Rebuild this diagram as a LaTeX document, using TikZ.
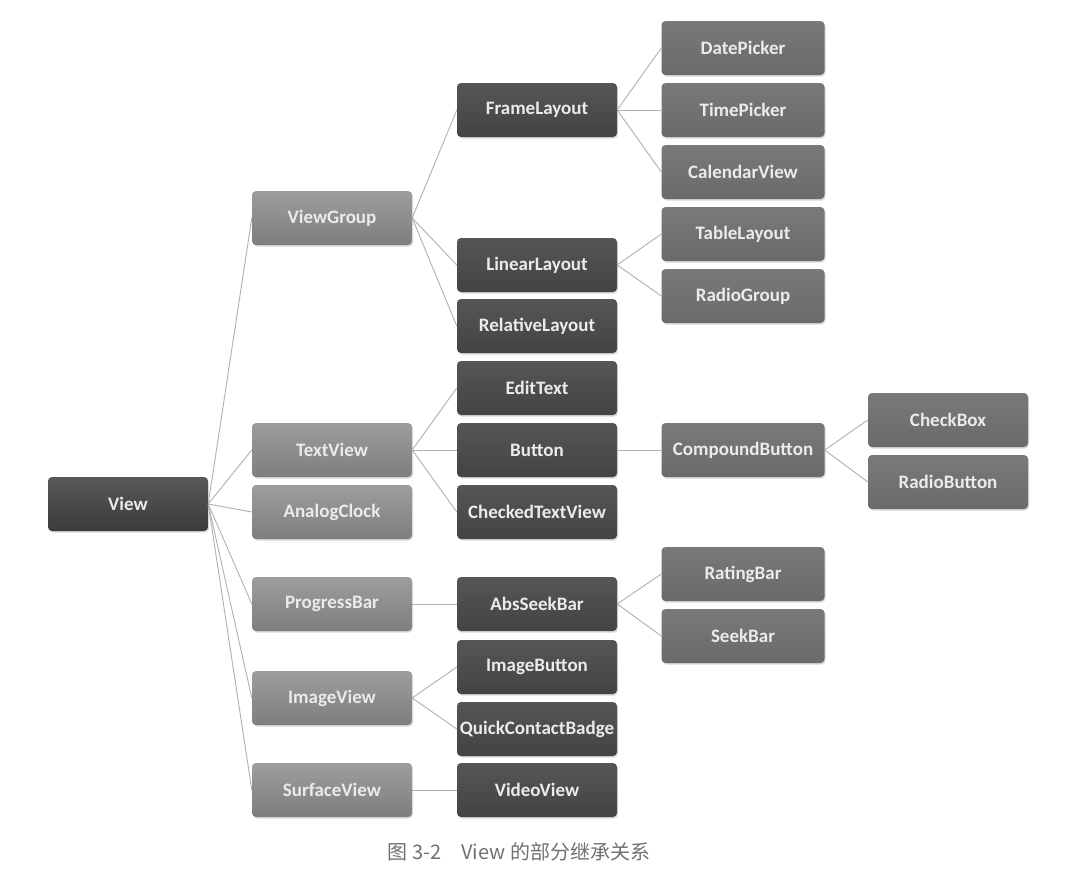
\documentclass[tikz,border=0pt]{standalone}
\usepackage{fontspec}
\setmainfont{Carlito}
\newfontfamily\cjk{Noto Sans CJK SC}
\usetikzlibrary{shadows}

\definecolor{rootgray}{HTML}{3B3B3B}
\definecolor{onegray}{HTML}{8C8C8C}
\definecolor{twogray}{HTML}{434343}
\definecolor{threegray}{HTML}{6A6A6A}
\definecolor{linegray}{HTML}{B0B0B0}
\definecolor{capgray}{HTML}{707070}

\tikzstyle{box} = [rectangle, rounded corners=4pt, minimum width=160pt, minimum height=54pt,
  inner sep=1pt, text=white!92!black, font=\fontsize{19}{22}\selectfont\bfseries,
  drop shadow={opacity=0.3, shadow xshift=1pt, shadow yshift=-1.5pt}]
\tikzstyle{root} = [box, top color=rootgray!85!white, bottom color=rootgray]
\tikzstyle{lvlone} = [box, top color=onegray!85!white, bottom color=onegray!90!black]
\tikzstyle{lvltwo} = [box, top color=twogray!90!white, bottom color=twogray]
\tikzstyle{lvlthree} = [box, minimum width=163pt, top color=threegray!90!white, bottom color=threegray]
\tikzstyle{link} = [draw=linegray, line width=0.9pt]

\begin{document}
\begin{tikzpicture}[x=1pt, y=-1pt]
        \useasboundingbox (0,0) rectangle (1071,894);

        % Root
        \node[root] (view) at (128,504) {View};

        % First level
        \foreach \name/\y/\txt in {
          viewgroup/218/ViewGroup,
          textview/450/TextView,
          analogclock/512/AnalogClock,
          progressbar/604/ProgressBar,
          imageview/698/ImageView,
          surfaceview/790/SurfaceView}
        \node[lvlone] (\name) at (332,\y) {\txt};

        % Second level
        \foreach \name/\y/\txt in {
          framelayout/110/FrameLayout,
          linearlayout/265/LinearLayout,
          relativelayout/326/RelativeLayout,
          edittext/388/EditText,
          button/450/Button,
          checkedtextview/512/CheckedTextView,
          absseekbar/604/AbsSeekBar,
          imagebutton/667/ImageButton,
          quickcontactbadge/729/QuickContactBadge,
          videoview/790/VideoView}
        \node[lvltwo] (\name) at (537,\y) {\txt};

        % Third level
        \foreach \name/\y/\txt in {
          datepicker/48/DatePicker,
          timepicker/110/TimePicker,
          calendarview/172/CalendarView,
          tablelayout/234/TableLayout,
          radiogroup/296/RadioGroup,
          compoundbutton/450/CompoundButton,
          ratingbar/574/RatingBar,
          seekbar/636/SeekBar}
        \node[lvlthree] (\name) at (743,\y) {\txt};

        % Fourth level
        \foreach \name/\y/\txt in {
          checkbox/420/CheckBox,
          radiobutton/482/RadioButton}
        \node[lvlthree, minimum width=160pt] (\name) at (948,\y) {\txt};

        % Inheritance links
        \foreach \a/\b in {
          view/viewgroup, view/textview, view/analogclock,
          view/progressbar, view/imageview, view/surfaceview,
          viewgroup/framelayout, viewgroup/linearlayout, viewgroup/relativelayout,
          framelayout/datepicker, framelayout/timepicker, framelayout/calendarview,
          linearlayout/tablelayout, linearlayout/radiogroup,
          textview/edittext, textview/button, textview/checkedtextview,
          button/compoundbutton,
          compoundbutton/checkbox, compoundbutton/radiobutton,
          progressbar/absseekbar,
          absseekbar/ratingbar, absseekbar/seekbar,
          imageview/imagebutton, imageview/quickcontactbadge,
          surfaceview/videoview}
        \draw[link] (\a.east) -- (\b.west);

        % Caption
        \node[font=\cjk\fontsize{20}{24}\selectfont, text=capgray] (caption) at (519,852)
          {图 3-2\quad View 的部分继承关系};
      \end{tikzpicture}
\end{document}
